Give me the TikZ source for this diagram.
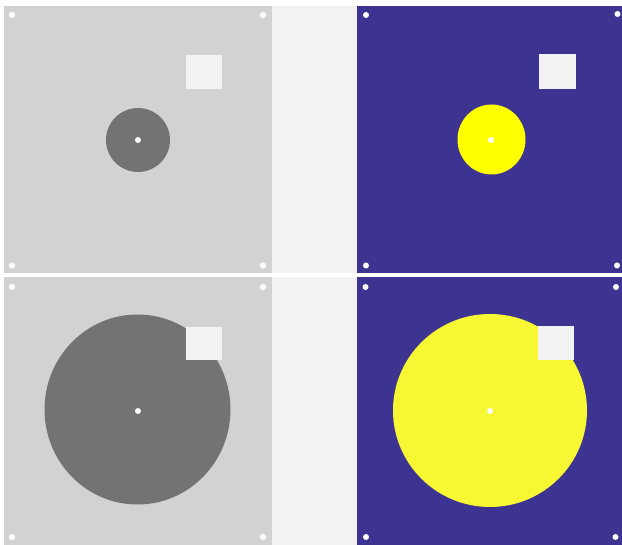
\documentclass[tikz,border=0pt]{standalone}
\usepackage{tikz}
\definecolor{panelgray}{RGB}{210,210,210}
\definecolor{blobgray}{RGB}{115,115,115}
\definecolor{strip}{RGB}{242,242,242}
\definecolor{pblue}{RGB}{61,51,145}
\definecolor{yelA}{RGB}{255,255,0}
\definecolor{yelB}{RGB}{248,247,52}
\definecolor{sq}{RGB}{242,242,242}
\tikzset{
  panelG/.style={fill=panelgray, draw=none},
  panelB/.style={fill=pblue, draw=none},
  square/.style={fill=sq, draw=none},
  dotG/.style={fill=white!92!panelgray, draw=none},
  dotB/.style={fill=white, draw=none},
}
\begin{document}
\begin{tikzpicture}[x=1pt,y=-1pt]
\useasboundingbox (0,0) rectangle (622,545);
\fill[white] (0,0) rectangle (622,545);
% strip
\fill[strip] (272,6) rectangle (357,545);
% panels
\fill[panelG] (4,6) rectangle (272,273);
\fill[panelB] (357,6) rectangle (622,273);
\fill[panelG] (4,277.5) rectangle (272,545);
\fill[panelB] (357,277.5) rectangle (622,545);
\fill[white] (0,273) rectangle (622,277.5);
% top-left
\fill[blobgray] (138,140) circle[radius=32];
\fill[square] (186,55) rectangle (222,89);
% top-right
\fill[yelA] (491.5,139.5) ellipse[x radius=34,y radius=35];
\fill[square] (539,54) rectangle (576,89);
% bottom-left blob
\fill[blobgray] (137.5,409.5) ellipse[x radius=93,y radius=95];
\fill[square] (186,327) rectangle (222,360);
% bottom-right blob
\fill[yelB] (490,410.5) ellipse[x radius=97,y radius=96.5];
\fill[square] (538,326) rectangle (574,360);
% center dots
\fill[white] (138,140) circle[radius=3];
\fill[white] (491,140) circle[radius=3];
\fill[white] (138,411) circle[radius=3];
\fill[white] (490,411) circle[radius=3];
% corner dots gray
\foreach \p in {(12,15),(263,15),(12,265.5),(263,265.5),(12,287),(263,287),(12,537),(263,537)}
  \fill[dotG] \p circle[radius=3.2];
% corner dots blue
\foreach \p in {(366,15),(617.5,14),(366,265.5),(617,265.5),(365.5,287),(616,287),(366,537),(615.5,537)}
  \fill[dotB] \p circle[radius=3];
\end{tikzpicture}
\end{document}
